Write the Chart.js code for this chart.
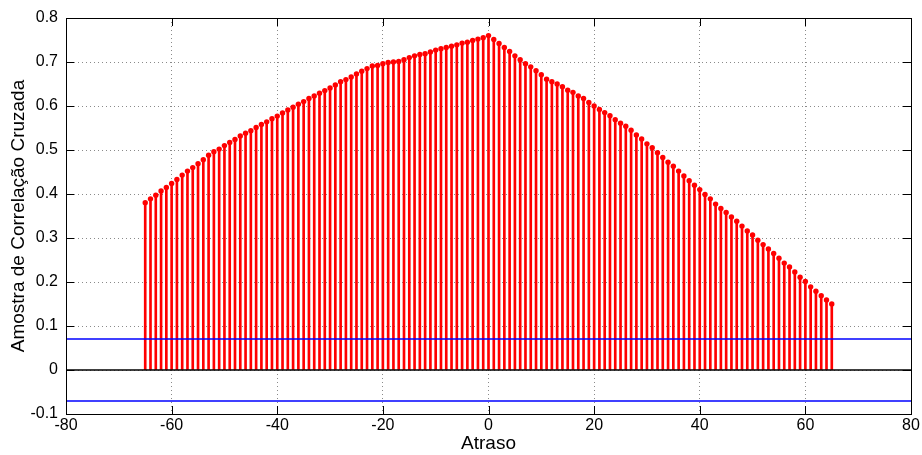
<!DOCTYPE html>
<html>
<head>
<meta charset="utf-8">
<script src="https://cdn.jsdelivr.net/npm/chart.js@4/dist/chart.umd.min.js"></script>
<style>
  html, body { margin: 0; padding: 0; background: #fff; }
  #xcorr { display: block; }
</style>
</head>
<body>
<canvas id="xcorr" width="922" height="455"></canvas>
<script>
// lags -65..65
const lags = Array.from({length: 131}, (_, i) => i - 65);

const xcorr = [
  0.380, 0.389, 0.397, 0.407, 0.415, 0.424, 0.433, 0.443, 0.452, 0.460,
  0.469, 0.478, 0.488, 0.496, 0.502, 0.510, 0.517, 0.524, 0.532, 0.538,
  0.544, 0.551, 0.558, 0.564, 0.571, 0.577,
  0.584, 0.591, 0.597, 0.604, 0.610, 0.617, 0.623, 0.629, 0.635, 0.641,
  0.648, 0.655, 0.660, 0.666, 0.673, 0.679, 0.685, 0.691, 0.692, 0.696,
  0.699, 0.700, 0.701, 0.705, 0.710, 0.714, 0.717,
  0.719, 0.723, 0.727, 0.730, 0.733, 0.736, 0.739, 0.743, 0.745, 0.749,
  0.752, 0.755, 0.760,
  0.751, 0.742, 0.733, 0.724, 0.714, 0.705, 0.696, 0.689, 0.680, 0.671,
  0.661, 0.655, 0.650,
  0.644, 0.636, 0.631, 0.623, 0.617, 0.608, 0.600, 0.592, 0.585, 0.578,
  0.569, 0.561, 0.554, 0.545, 0.534, 0.525, 0.514, 0.505, 0.494, 0.483,
  0.472, 0.463, 0.452, 0.441, 0.430, 0.420, 0.410,
  0.399, 0.389, 0.377, 0.367, 0.358, 0.348, 0.338, 0.327, 0.316, 0.307,
  0.295, 0.285, 0.275, 0.265, 0.254, 0.243, 0.234, 0.223, 0.211, 0.201,
  0.189, 0.179, 0.169, 0.159, 0.150
];

// confidence bounds (blue) and the zero line
const bounds = [0.0705, -0.0705];
const zeroLevel = 0;

const xLimits = [-80, 80];
const yLimits = [-0.1, 0.8];
const xTickStep = 20;
const yTickStep = 0.1;

const xTitle = 'Atraso';
const yTitle = 'Amostra de Correlação Cruzada';

const TICK_FONT = {family: "'Liberation Sans', Arial, sans-serif", size: 16};
const TITLE_FONT = {family: "'Liberation Sans', Arial, sans-serif", size: 19};

const points = lags.map((x, i) => ({x: x, y: xcorr[i]}));
const hline = (y) => xLimits.map(x => ({x: x, y: y}));

// matlab style box with inward ticks
const boxPlugin = {
  id: 'matlabBox',
  afterDatasetsDraw(chart) {
    const {ctx, chartArea: a, scales} = chart;
    const len = 8;
    ctx.save();
    ctx.strokeStyle = '#000';
    ctx.lineWidth = 1;
    ctx.beginPath();
    scales.x.ticks.forEach(t => {
      const px = Math.round(scales.x.getPixelForValue(t.value)) + 0.5;
      ctx.moveTo(px, a.bottom); ctx.lineTo(px, a.bottom - len);
      ctx.moveTo(px, a.top); ctx.lineTo(px, a.top + len);
    });
    scales.y.ticks.forEach(t => {
      const py = Math.round(scales.y.getPixelForValue(t.value)) + 0.5;
      ctx.moveTo(a.left, py); ctx.lineTo(a.left + len, py);
      ctx.moveTo(a.right, py); ctx.lineTo(a.right - len, py);
    });
    ctx.stroke();
    ctx.strokeRect(Math.round(a.left) + 0.5, Math.round(a.top) + 0.5,
      Math.round(a.right - a.left), Math.round(a.bottom - a.top));
    ctx.restore();
  }
};

const config = {
  type: 'bar',
  data: {
    datasets: [
      {
        type: 'line',
        data: hline(bounds[0]),
        borderColor: '#0000ff',
        borderWidth: 1.5,
        pointRadius: 0,
        order: 0,
      },
      {
        type: 'line',
        data: hline(bounds[1]),
        borderColor: '#0000ff',
        borderWidth: 1.5,
        pointRadius: 0,
        order: 0,
      },
      {
        type: 'line',
        data: hline(zeroLevel),
        borderColor: '#000',
        borderWidth: 1.5,
        pointRadius: 0,
        order: 1,
      },
      {
        type: 'line',
        data: points,
        showLine: false,
        pointRadius: 2.7,
        pointBackgroundColor: '#ff0000',
        pointBorderColor: '#ff0000',
        pointBorderWidth: 0,
        order: 2,
      },
      {
        type: 'bar',
        data: points,
        backgroundColor: '#ff0000',
        barThickness: 2,
        order: 3,
      },
    ],
  },
  options: {
    responsive: false,
    animation: false,
    devicePixelRatio: 1,
    layout: {padding: {left: 0, top: 18, right: 11, bottom: 0}},
    plugins: {legend: {display: false}, tooltip: {enabled: false}},
    scales: {
      x: {
        type: 'linear',
        offset: false,
        min: xLimits[0],
        max: xLimits[1],
        ticks: {
          stepSize: xTickStep,
          color: '#000',
          font: TICK_FONT,
          padding: 2,
          maxRotation: 0,
        },
        grid: {
          offset: false,
          color: '#8a8a8a',
          lineWidth: 1,
          drawTicks: false,
        },
        border: {display: false, dash: [1, 3]},
        title: {display: true, text: xTitle, color: '#000', font: TITLE_FONT, padding: {top: 0, bottom: 0}},
        afterFit: (s) => { s.height = 41; },
      },
      y: {
        min: yLimits[0],
        max: yLimits[1],
        ticks: {
          stepSize: yTickStep,
          color: '#000',
          font: TICK_FONT,
          padding: 8,
          callback: (v) => String(Math.round(v * 10) / 10),
        },
        grid: {
          color: '#8a8a8a',
          lineWidth: 1,
          drawTicks: false,
        },
        border: {display: false, dash: [1, 3]},
        title: {display: true, text: yTitle, color: '#000', font: TITLE_FONT, padding: {top: 7, bottom: 0}},
        afterFit: (s) => { s.width = 66; },
      },
    },
  },
  plugins: [boxPlugin],
};

new Chart(document.getElementById('xcorr'), config);
</script>
</body>
</html>
